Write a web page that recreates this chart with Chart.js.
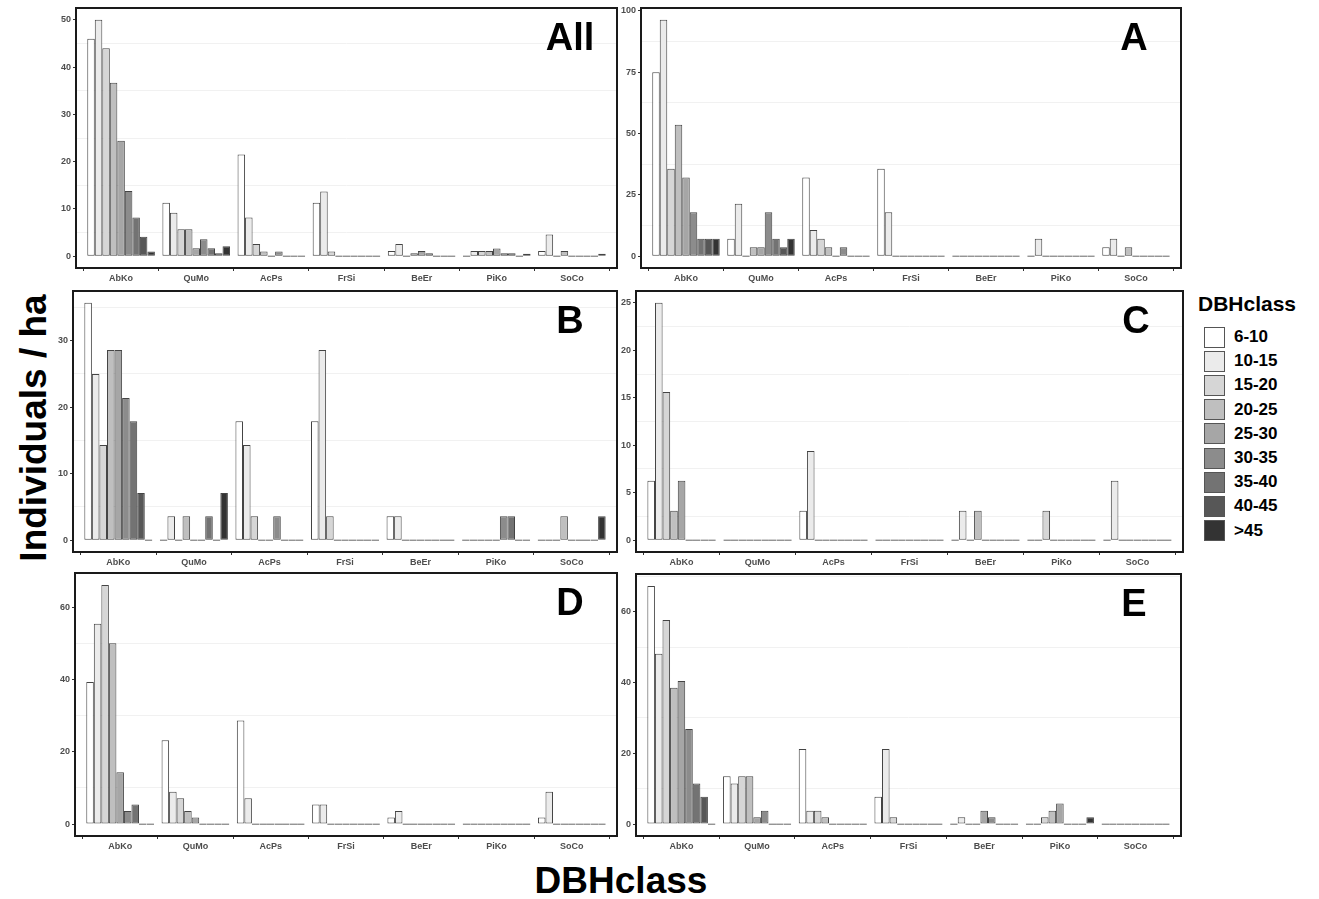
<!DOCTYPE html>
<html>
<head>
<meta charset="utf-8">
<title>DBHclass</title>
<script src="https://cdn.jsdelivr.net/npm/chart.js@4.4.1/dist/chart.umd.min.js"></script>
<style>
    body { margin: 0; background: #fff; font-family: 'Liberation Sans', Arial, sans-serif; }
    #page { position: relative; width: 1319px; height: 899px; overflow: hidden; }
    .panel { position: absolute; }
    .ytitle { position: absolute; left: 33px; top: 428px; transform: translate(-50%, -50%) rotate(-90deg);
              font-weight: bold; font-size: 37px; white-space: nowrap; line-height: 1; }
    .xtitle { position: absolute; left: 621px; top: 880px; transform: translate(-50%, -50%);
              font-weight: bold; font-size: 37px; white-space: nowrap; line-height: 1; }
    .legend { position: absolute; left: 1198px; top: 292px; }
    .legend h4 { margin: 0 0 9px 0; font-size: 21px; font-weight: bold; line-height: 24px; }
    .legend .row { display: flex; align-items: center; height: 24.2px; margin-left: 6px; }
    .legend .key { width: 19px; height: 19px; border: 1.5px solid #555; box-sizing: content-box; }
    .legend .row span { margin-left: 9px; font-size: 17px; font-weight: bold; }
</style>
</head>
<body>
<div id="page">
    <div class="ytitle">Individuals / ha</div>
    <div class="xtitle">DBHclass</div>
    <div class="legend" id="legend"><h4>DBHclass</h4></div>
</div>
<script>
// species on the x axis
const species = ['AbKo', 'QuMo', 'AcPs', 'FrSi', 'BeEr', 'PiKo', 'SoCo'];
// DBH classes (one bar per class inside each species group)
const dbhClasses = ['6-10', '10-15', '15-20', '20-25', '25-30', '30-35', '35-40', '40-45', '>45'];

// individuals / ha, rows = species, columns = dbh classes
const valuesAll = [
    [46.0, 50.0, 44.0, 36.7, 24.4, 13.8, 8.2, 4.1, 1.0],
    [11.3, 9.2, 5.7, 5.7, 1.7, 3.6, 1.7, 0.6, 2.1],
    [21.5, 8.2, 2.6, 1.0, 0, 1.0, 0, 0, 0],
    [11.3, 13.7, 1.0, 0, 0, 0, 0, 0, 0],
    [1.1, 2.6, 0, 0.6, 1.1, 0.6, 0, 0, 0],
    [0, 1.1, 1.1, 1.1, 1.6, 0.6, 0.6, 0, 0.5],
    [1.1, 4.6, 0, 1.1, 0, 0, 0, 0, 0.5]
];
const valuesA = [
    [75.0, 96.4, 35.7, 53.6, 32.1, 17.9, 7.1, 7.1, 7.1],
    [7.1, 21.4, 0, 3.6, 3.6, 17.9, 7.1, 3.6, 7.1],
    [32.1, 10.7, 7.1, 3.6, 0, 3.6, 0, 0, 0],
    [35.7, 17.9, 0, 0, 0, 0, 0, 0, 0],
    [0, 0, 0, 0, 0, 0, 0, 0, 0],
    [0, 7.1, 0, 0, 0, 0, 0, 0, 0],
    [3.6, 7.1, 0, 3.6, 0, 0, 0, 0, 0]
];
const valuesB = [
    [35.7, 25.0, 14.3, 28.6, 28.6, 21.4, 17.9, 7.1, 0],
    [0, 3.6, 0, 3.6, 0, 0, 3.6, 0, 7.1],
    [17.9, 14.3, 3.6, 0, 0, 3.6, 0, 0, 0],
    [17.9, 28.6, 3.6, 0, 0, 0, 0, 0, 0],
    [3.6, 3.6, 0, 0, 0, 0, 0, 0, 0],
    [0, 0, 0, 0, 0, 3.6, 3.6, 0, 0],
    [0, 0, 0, 3.6, 0, 0, 0, 0, 3.6]
];
const valuesC = [
    [6.25, 25.0, 15.6, 3.1, 6.25, 0, 0, 0, 0],
    [0, 0, 0, 0, 0, 0, 0, 0, 0],
    [3.1, 9.4, 0, 0, 0, 0, 0, 0, 0],
    [0, 0, 0, 0, 0, 0, 0, 0, 0],
    [0, 3.1, 0, 3.1, 0, 0, 0, 0, 0],
    [0, 0, 3.1, 0, 0, 0, 0, 0, 0],
    [0, 6.25, 0, 0, 0, 0, 0, 0, 0]
];
const valuesD = [
    [39.3, 55.4, 66.1, 50.0, 14.3, 3.6, 5.4, 0, 0],
    [23.2, 8.9, 7.1, 3.6, 1.8, 0, 0, 0, 0],
    [28.6, 7.1, 0, 0, 0, 0, 0, 0, 0],
    [5.4, 5.4, 0, 0, 0, 0, 0, 0, 0],
    [1.8, 3.6, 0, 0, 0, 0, 0, 0, 0],
    [0, 0, 0, 0, 0, 0, 0, 0, 0],
    [1.8, 8.9, 0, 0, 0, 0, 0, 0, 0]
];
const valuesE = [
    [67.3, 48.1, 57.7, 38.5, 40.4, 26.9, 11.5, 7.7, 0],
    [13.5, 11.5, 13.5, 13.5, 1.9, 3.8, 0, 0, 0],
    [21.2, 3.8, 3.8, 1.9, 0, 0, 0, 0, 0],
    [7.7, 21.2, 1.9, 0, 0, 0, 0, 0, 0],
    [0, 1.9, 0, 0, 3.8, 1.9, 0, 0, 0],
    [0, 0, 1.9, 3.8, 5.8, 0, 0, 0, 1.9],
    [0, 0, 0, 0, 0, 0, 0, 0, 0]
];

const greys = ['#ffffff', '#ebebeb', '#d6d6d6', '#bfbfbf', '#a6a6a6', '#8c8c8c', '#737373', '#575757', '#333333'];

// panel boxes are the plot areas: [left, top, right, bottom]
const panels = [
    { label: 'All', values: valuesAll, step: 10, box: [76, 8, 617, 268] },
    { label: 'A',   values: valuesA,   step: 25, box: [641, 8, 1181, 268] },
    { label: 'B',   values: valuesB,   step: 10, box: [73, 291, 617, 552] },
    { label: 'C',   values: valuesC,   step: 5,  box: [636, 291, 1183, 552] },
    { label: 'D',   values: valuesD,   step: 20, box: [75, 573, 617, 836] },
    { label: 'E',   values: valuesE,   step: 20, box: [636, 574, 1181, 836] }
];

const Y_W = 30, X_H = 18, PAD_T = 10, PAD_R = 4;
const tickFont = { family: 'Liberation Sans', weight: 'bold', size: 9 };

const panelFrame = {
    id: 'panelFrame',
    afterDraw(chart, args, opts) {
        const { ctx, chartArea: a } = chart;
        ctx.save();
        ctx.strokeStyle = '#1a1a1a';
        ctx.lineWidth = 2;
        ctx.strokeRect(a.left, a.top, a.right - a.left, a.bottom - a.top);
        ctx.fillStyle = '#000';
        ctx.font = 'bold 38px "Liberation Sans"';
        ctx.textAlign = 'center';
        ctx.textBaseline = 'alphabetic';
        ctx.fillText(opts.text, a.right - 47, a.top + 42);
        ctx.restore();
    }
};

document.addEventListener('DOMContentLoaded', () => {
    const page = document.getElementById('page');

    const legend = document.getElementById('legend');
    dbhClasses.forEach((c, i) => {
        const row = document.createElement('div');
        row.className = 'row';
        row.innerHTML = '<div class="key" style="background:' + greys[i] + '"></div><span>' + c + '</span>';
        legend.appendChild(row);
    });

    panels.forEach(p => {
        const [l, t, r, b] = p.box;
        const div = document.createElement('div');
        div.className = 'panel';
        div.style.left = (l - Y_W) + 'px';
        div.style.top = (t - PAD_T) + 'px';
        div.style.width = (r - l + Y_W + PAD_R) + 'px';
        div.style.height = (b - t + PAD_T + X_H) + 'px';
        const canvas = document.createElement('canvas');
        div.appendChild(canvas);
        page.appendChild(div);

        const maxVal = Math.max(...p.values.flat());
        const step = p.step;

        new Chart(canvas.getContext('2d'), {
            type: 'bar',
            data: {
                datasets: dbhClasses.map((c, k) => ({
                    label: c,
                    data: species.map((s, i) => ({ x: i, y: p.values[i][k] })),
                    backgroundColor: greys[k],
                    borderColor: '#444',
                    borderWidth: 1,
                    borderSkipped: false,
                    minBarLength: 1.2,
                    categoryPercentage: 0.9,
                    barPercentage: 1.0
                }))
            },
            options: {
                responsive: true,
                maintainAspectRatio: false,
                animation: false,
                layout: { padding: { top: PAD_T, right: PAD_R, left: 0, bottom: 0 } },
                plugins: {
                    legend: { display: false },
                    tooltip: { enabled: false },
                    panelFrame: { text: p.label }
                },
                scales: {
                    x: {
                        type: 'linear',
                        min: -0.6,
                        max: species.length - 0.4,
                        offset: false,
                        afterBuildTicks: axis => { axis.ticks = species.map((s, i) => ({ value: i })); },
                        afterFit: axis => { axis.height = X_H; },
                        ticks: {
                            autoSkip: false,
                            maxRotation: 0,
                            padding: 2,
                            color: '#4d4d4d',
                            font: tickFont,
                            callback: v => species[v]
                        },
                        grid: { color: 'rgba(0,0,0,0)', tickColor: '#333', tickLength: 3, drawTicks: true },
                        border: { display: false }
                    },
                    y: {
                        min: -0.05 * maxVal,
                        max: 1.05 * maxVal,
                        afterBuildTicks: axis => {
                            const ticks = [];
                            for (let v = 0; v <= axis.max + 1e-9; v += step / 2) ticks.push({ value: v });
                            axis.ticks = ticks;
                        },
                        afterFit: axis => { axis.width = Y_W; },
                        ticks: {
                            autoSkip: false,
                            padding: 2,
                            color: '#4d4d4d',
                            font: tickFont,
                            callback: v => (Math.abs(v % step) < 1e-6 ? String(v) : '')
                        },
                        grid: {
                            lineWidth: 1,
                            tickLength: 3,
                            color: c => (Math.abs(c.tick.value % step) < 1e-6 ? 'rgba(0,0,0,0)' : '#f1f1f1'),
                            tickColor: c => (Math.abs(c.tick.value % step) < 1e-6 ? '#333' : 'rgba(0,0,0,0)')
                        },
                        border: { display: false }
                    }
                }
            },
            plugins: [panelFrame]
        });
    });
});
</script>
</body>
</html>
